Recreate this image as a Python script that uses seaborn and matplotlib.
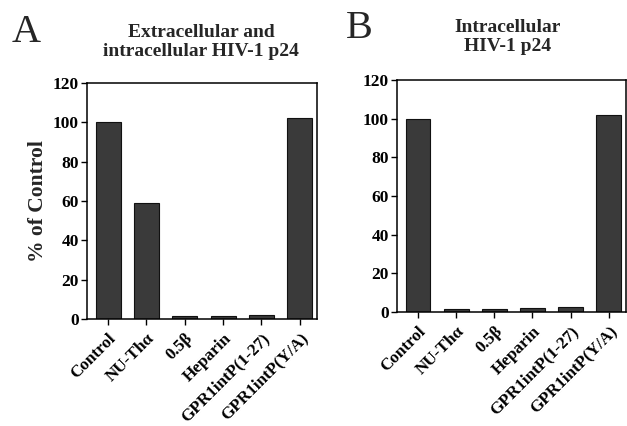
import pandas as pd
import seaborn as sns
import matplotlib.pyplot as plt

sns.set_theme(style="ticks")
plt.rcParams['font.family'] = ['Liberation Serif', 'DejaVu Serif']

treatments = ['Control', 'NU-Thα', '0.5β', 'Heparin', 'GPR1intP(1-27)', 'GPR1intP(Y/A)']
total_p24 = [100, 59, 1.5, 1.5, 2, 102]
intra_p24 = [100, 1.5, 1.5, 2, 2.5, 102]
yticks = [0, 20, 40, 60, 80, 100, 120]

df_a = pd.DataFrame({'treatment': treatments, 'pct': total_p24})
df_b = pd.DataFrame({'treatment': treatments, 'pct': intra_p24})

fig = plt.figure(figsize=(6.27, 4.26), dpi=100)
ax_a = fig.add_axes([87 / 627, 1 - 319 / 426, 230 / 627, 236 / 426])
ax_b = fig.add_axes([397 / 627, 1 - 312 / 426, 229 / 627, 232 / 426])

for ax, df in [(ax_a, df_a), (ax_b, df_b)]:
    sns.barplot(data=df, x='treatment', y='pct', color='#3a3a3a', width=0.65,
                edgecolor='#111111', linewidth=0.8, saturation=1, ax=ax)
    ax.set_ylim(0, 120)
    ax.set_xlim(-0.55, 5.45)
    ax.set_yticks(yticks)
    ax.set_yticklabels([str(t) for t in yticks], fontweight='bold', fontsize=12.5)
    ax.set_xticks(range(len(treatments)))
    ax.set_xticklabels(treatments, rotation=45, ha='right', rotation_mode='anchor',
                       fontweight='bold', fontsize=12.3)
    ax.tick_params(axis='both', direction='out', length=4, width=1, colors='black')
    ax.tick_params(axis='x', pad=4)
    ax.tick_params(axis='y', pad=2)
    for s in ax.spines.values():
        s.set_visible(True)
        s.set_linewidth(1.1)
        s.set_color('black')
    ax.set_xlabel('')
    ax.set_ylabel('')

ax_a.set_ylabel('% of Control', fontweight='bold', fontsize=15.5, labelpad=3)

fig.text(26 / 627, 1 - 32 / 426, 'A', fontsize=29, ha='center', va='center')
fig.text(201 / 627, 1 - 42 / 426, 'Extracellular and\nintracellular HIV-1 p24',
         fontsize=14, fontweight='bold', ha='center', va='center', linespacing=1.15)
fig.text(359 / 627, 1 - 29 / 426, 'B', fontsize=29, ha='center', va='center')
fig.text(508 / 627, 1 - 37 / 426, 'Intracellular\nHIV-1 p24',
         fontsize=14, fontweight='bold', ha='center', va='center', linespacing=1.15)

plt.savefig("out.png", dpi=100)
